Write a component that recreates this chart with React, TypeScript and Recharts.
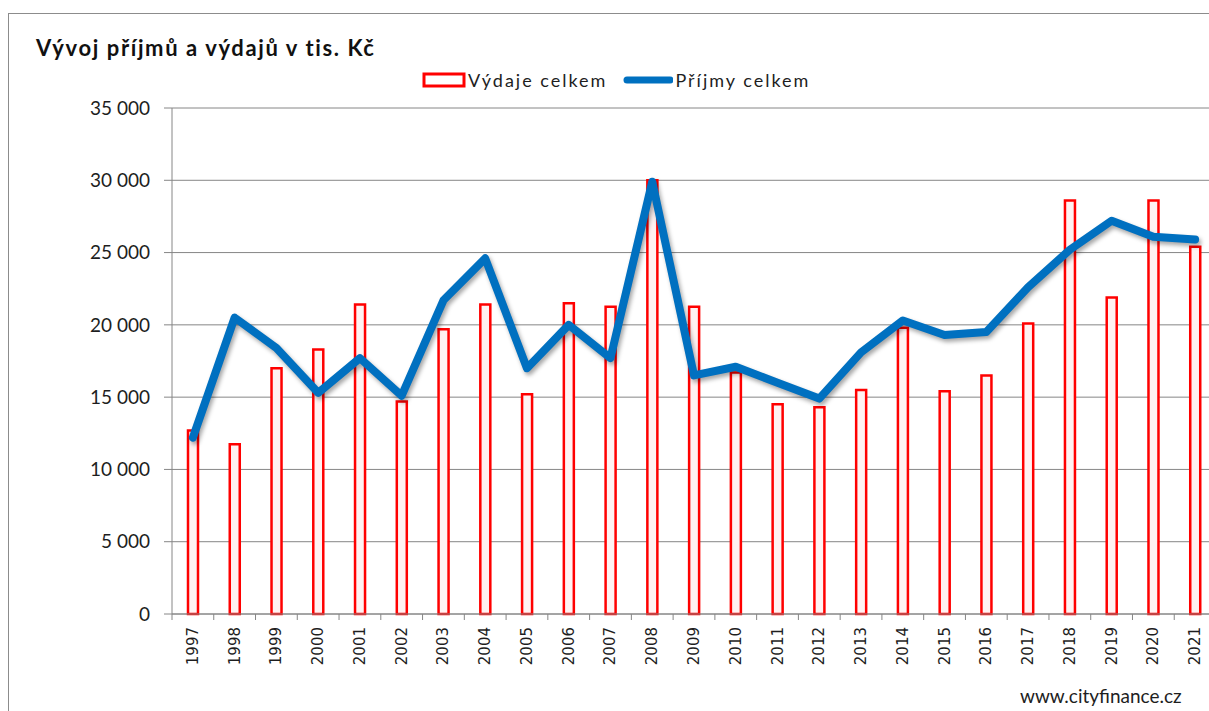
import React from "react";
import {
  ComposedChart,
  Bar,
  Line,
  XAxis,
  YAxis,
  CartesianGrid,
  Legend,
} from "recharts";

// values in thousands CZK
const years = [
  "1997", "1998", "1999", "2000", "2001", "2002", "2003", "2004", "2005",
  "2006", "2007", "2008", "2009", "2010", "2011", "2012", "2013", "2014",
  "2015", "2016", "2017", "2018", "2019", "2020", "2021",
];
const vydaje = [
  12700, 11750, 17000, 18300, 21400, 14700, 19700, 21400, 15200,
  21500, 21250, 30000, 21250, 16700, 14500, 14300, 15500, 19800,
  15400, 16500, 20100, 28600, 21900, 28600, 25400,
];
const prijmy = [
  12200, 20500, 18400, 15300, 17700, 15100, 21700, 24600, 17000,
  20000, 17700, 29900, 16500, 17100, 16000, 14900, 18100, 20300,
  19300, 19500, 22600, 25200, 27200, 26100, 25900,
];
const yTicks = [0, 5000, 10000, 15000, 20000, 25000, 30000, 35000];

const data = years.map((year, i) => ({
  year,
  vydaje: vydaje[i],
  prijmy: prijmy[i],
}));

const CHART_W = 1230;
const CHART_H = 711;
const MARGIN = { top: 108, right: 14, bottom: 0, left: 0 };
const Y_AXIS_W = 172;
const X_AXIS_H = 97;
const BAND = (CHART_W - MARGIN.left - MARGIN.right - Y_AXIS_W) / years.length;

const AXIS_GRAY = "#868686";
const TEXT = "#1e1e1e";
const SANS = "Lato, 'Open Sans', sans-serif";

const fmt = (v: number) =>
  v === 0 ? "0" : `${Math.floor(v / 1000)} ${String(v % 1000).padStart(3, "0")}`;

const YearTick = (props: any) => {
  const { x, y, payload } = props;
  const bx = x - BAND / 2;
  const ty = y + 13;
  return (
    <g>
      <line x1={bx} x2={bx} y1={y} y2={y + 6} stroke={AXIS_GRAY} />
      <text
        x={x}
        y={ty}
        transform={`rotate(-90, ${x}, ${ty})`}
        textAnchor="end"
        dominantBaseline="central"
        fill={TEXT}
        fontSize={15}
        fontFamily="'DejaVu Sans', Verdana, sans-serif"
      >
        {payload.value}
      </text>
    </g>
  );
};

// bars first, like the original legend
const renderLegend = (props: any) => {
  const items = [...props.payload].sort(
    (a: any, b: any) => (a.type === "rect" ? 0 : 1) - (b.type === "rect" ? 0 : 1)
  );
  return (
    <div style={{ display: "flex", alignItems: "center", fontFamily: SANS }}>
      {items.map((entry: any) => (
        <div
          key={entry.value}
          style={{ display: "flex", alignItems: "center", marginRight: 16 }}
        >
          {entry.type === "line" ? (
            <svg width={50} height={14}>
              <line
                x1={4}
                x2={47}
                y1={7}
                y2={7}
                stroke="#0070C0"
                strokeWidth={7}
                strokeLinecap="round"
              />
            </svg>
          ) : (
            <svg width={44} height={16}>
              <rect x={2} y={2} width={40} height={12} fill="#fff" stroke="#ff0000" strokeWidth={3} />
            </svg>
          )}
          <span
            style={{ fontSize: 18, color: TEXT, letterSpacing: 2, marginLeft: 2 }}
          >
            {entry.value}
          </span>
        </div>
      ))}
    </div>
  );
};

export default function App() {
  return (
    <div
      style={{
        position: "absolute",
        left: 0,
        top: 0,
        width: 1209,
        height: 711,
        overflow: "hidden",
        background: "#fff",
      }}
    >
      <style>{`.recharts-line-curve { filter: drop-shadow(2px 3px 2px rgba(0,0,0,0.35)); }`}</style>
      <div
        style={{
          position: "absolute",
          left: 8,
          top: 13,
          width: 1400,
          height: 900,
          border: "1px solid #8c8c8c",
        }}
      />
      <div
        style={{
          position: "absolute",
          left: 36,
          top: 34,
          fontFamily: SANS,
          fontWeight: 700,
          fontSize: 22,
          letterSpacing: 1.6,
          color: "#111",
          whiteSpace: "nowrap",
        }}
      >
        Vývoj příjmů a výdajů v tis. Kč
      </div>
      <div style={{ position: "absolute", left: 0, top: 0 }}>
        <ComposedChart width={CHART_W} height={CHART_H} data={data} margin={MARGIN}>
          <CartesianGrid vertical={false} stroke={AXIS_GRAY} />
          <XAxis
            dataKey="year"
            height={X_AXIS_H}
            interval={0}
            stroke={AXIS_GRAY}
            tickLine={false}
            tickSize={0}
            tickMargin={0}
            tick={<YearTick />}
          />
          <YAxis
            width={Y_AXIS_W}
            domain={[0, 35000]}
            ticks={yTicks}
            interval={0}
            stroke={AXIS_GRAY}
            tickSize={8}
            tickMargin={14}
            tickFormatter={fmt}
            tick={{ fill: TEXT, fontSize: 19, fontFamily: SANS }}
          />
          <Legend
            verticalAlign="middle"
            layout="horizontal"
            content={renderLegend}
            wrapperStyle={{ top: 69, left: 422, width: "auto" }}
          />
          <Bar
            dataKey="vydaje"
            name="Výdaje celkem"
            barSize={10}
            fill="#fff2f2"
            stroke="#ff0000"
            strokeWidth={2.5}
            legendType="rect"
            isAnimationActive={false}
          />
          <Line
            dataKey="prijmy"
            name="Příjmy celkem"
            type="linear"
            stroke="#0070C0"
            strokeWidth={8}
            strokeLinejoin="round"
            strokeLinecap="round"
            dot={false}
            activeDot={false}
            legendType="line"
            isAnimationActive={false}
          />
        </ComposedChart>
      </div>
      <div
        style={{
          position: "absolute",
          left: 1020,
          top: 684,
          fontFamily: SANS,
          fontSize: 19,
          color: TEXT,
          whiteSpace: "nowrap",
        }}
      >
        www.cityfinance.cz
      </div>
    </div>
  );
}
